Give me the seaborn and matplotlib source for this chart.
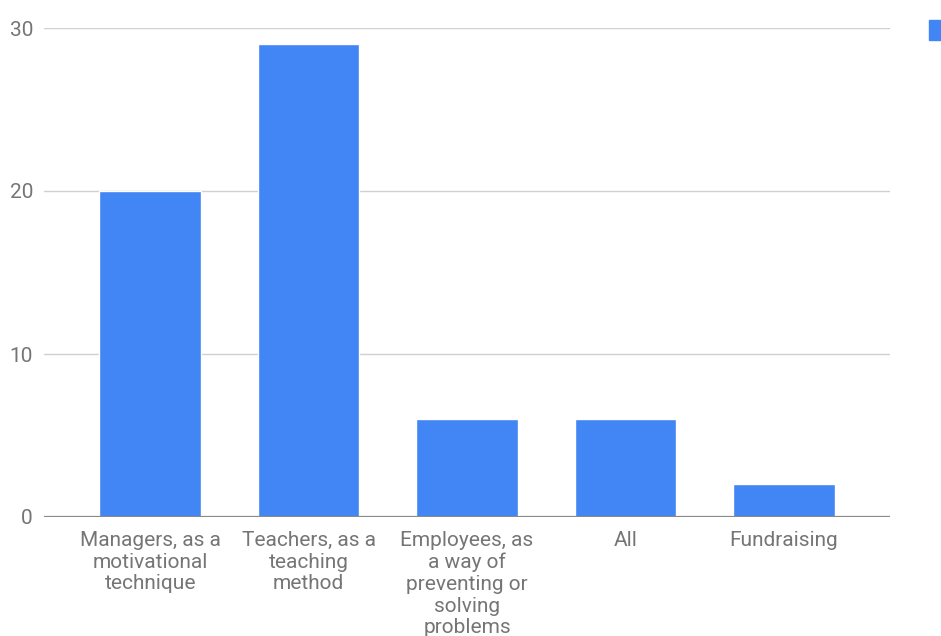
import seaborn as sns
import matplotlib.pyplot as plt
import pandas as pd
from matplotlib.patches import Patch

categories = [
    "Managers, as a\nmotivational\ntechnique",
    "Teachers, as a\nteaching\nmethod",
    "Employees, as\na way of\npreventing or\nsolving\nproblems",
    "All",
    "Fundraising",
]
values = [20, 29, 6, 6, 2]
y_ticks = [0, 10, 20, 30]

df = pd.DataFrame({"Category": categories, "Value": values})

sns.set_style("white")
plt.rcParams["font.family"] = ["Roboto", "DejaVu Sans"]

fig = plt.figure(figsize=(9.41, 6.36), dpi=100)
ax = fig.add_axes([44 / 941, 1 - 517 / 636, 846 / 941, 489 / 636])

bar_color = "#4285F4"
sns.barplot(data=df, x="Category", y="Value", color=bar_color, width=0.64,
            saturation=1, ax=ax, zorder=3)

# axes look
ax.set_xlim(-0.67, 4.67)
ax.set_ylim(0, 30)
ax.set_yticks(y_ticks)
ax.set_xlabel("")
ax.set_ylabel("")
for s in ["top", "right", "left", "bottom"]:
    ax.spines[s].set_visible(False)
ax.axhline(0, color="#8a8a8a", linewidth=1.6, zorder=4)
ax.grid(True, axis="y", color="#d0d0d0", linewidth=1.0, zorder=0)
ax.grid(False, axis="x")

ax.tick_params(axis="both", length=0, labelsize=15, labelcolor="#757575")
ax.tick_params(axis="x", pad=10)
ax.tick_params(axis="y", pad=8)
for lbl in ax.get_xticklabels():
    lbl.set_linespacing(1.18)
    lbl.set_verticalalignment("top")

# legend swatch (label runs past the right edge in the reference)
fig.legend(handles=[Patch(color=bar_color)], labels=[""],
           loc="center left", bbox_to_anchor=(929 / 941, 1 - 30 / 636),
           frameon=False, fontsize=14, handlelength=1.25, handleheight=1.25,
           borderpad=0, borderaxespad=0)

plt.savefig("out.png", dpi=100)
